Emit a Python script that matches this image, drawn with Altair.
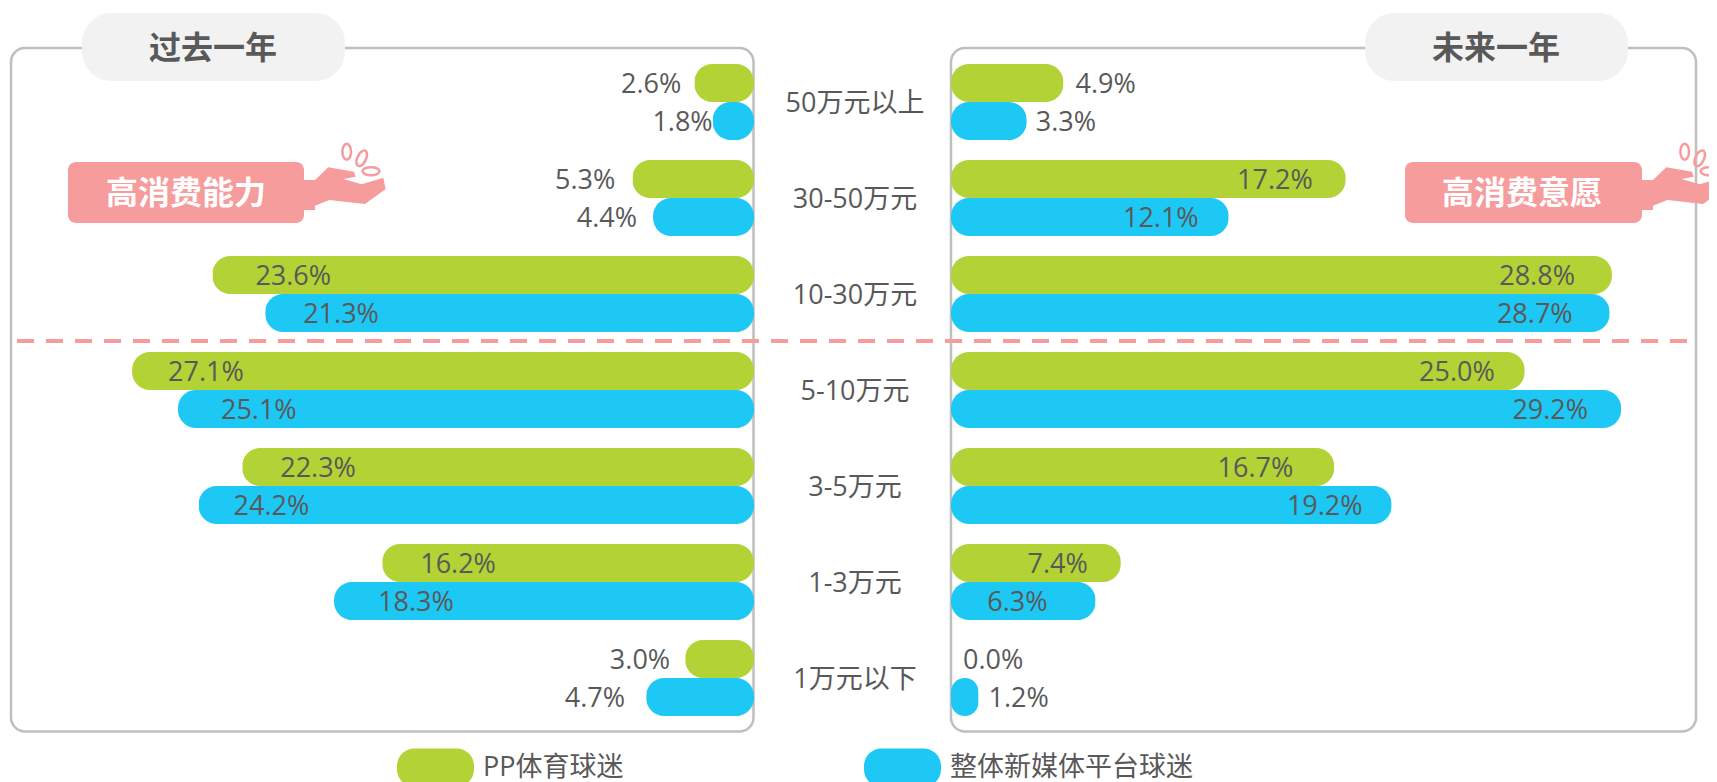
import altair as alt
import pandas as pd

categories = ["50万元以上", "30-50万元", "10-30万元", "5-10万元", "3-5万元", "1-3万元", "1万元以下"]
series = ["PP体育球迷", "整体新媒体平台球迷"]
past_pp = [2.6, 5.3, 23.6, 27.1, 22.3, 16.2, 3.0]
past_all = [1.8, 4.4, 21.3, 25.1, 24.2, 18.3, 4.7]
future_pp = [4.9, 17.2, 28.8, 25.0, 16.7, 7.4, 0.0]
future_all = [3.3, 12.1, 28.7, 29.2, 19.2, 6.3, 1.2]
colors = ["#b2d235", "#1ec8f4"]

# hand-placed label nudges, in pixels, by value
nudge_past = {1.8: 13, 4.7: -8, 5.3: -4, 4.4: -3, 3.0: -2, 23.6: 5, 25.1: 5, 18.3: 6, 24.2: -3, 27.1: -2}
nudge_future = {16.7: -8, 28.8: -4, 28.7: -4, 25.0: 3, 19.2: 4, 12.1: 3, 6.3: -15, 3.3: -3, 1.2: -2}

GREY = "#595959"
PINK = "#f69c9c"
CJK = "Open Sans, Noto Sans CJK SC, sans-serif"
BOLD = "Noto Sans CJK SC, sans-serif"


def table(a, b):
    rows = []
    for c, x, y in zip(categories, a, b):
        rows.append({"cat": c, "series": series[0], "v": x})
        rows.append({"cat": c, "series": series[1], "v": y})
    return pd.DataFrame(rows)


past = table(past_pp, past_all)
future = table(future_pp, future_all)

Y = alt.Y("cat:N", sort=categories, axis=None,
          scale=alt.Scale(domain=categories, range=[56, 708], paddingInner=20 / 96, paddingOuter=0))
YO = alt.YOffset("series:N", sort=series,
                 scale=alt.Scale(domain=series, paddingInner=0, paddingOuter=0))
X_LEFT = alt.X("v:Q", axis=None, scale=alt.Scale(domain=[0, 30], range=[746, 57.5]))
X_RIGHT = alt.X("v:Q", axis=None, scale=alt.Scale(domain=[0, 30], range=[943, 1631.5]))

legend_shape = ("M-0.55,-0.5 L0.55,-0.5 A0.45,0.45 0 0 1 1,-0.05 L1,0.05 A0.45,0.45 0 0 1 0.55,0.5 "
                "L-0.55,0.5 A0.45,0.45 0 0 1 -1,0.05 L-1,-0.05 A0.45,0.45 0 0 1 -0.55,-0.5 Z")
COLOR = alt.Color(
    "series:N", sort=series,
    scale=alt.Scale(domain=series, range=colors),
    legend=alt.Legend(
        orient="none", legendX=389, legendY=721, direction="horizontal", title=None,
        symbolType=legend_shape, symbolSize=5929, symbolStrokeWidth=0, symbolOpacity=1,
        labelFontSize=27, labelColor=GREY, labelFont=CJK, labelOffset=9,
        columnPadding=240, labelLimit=400,
    ),
)
blank = alt.Data(values=[{"a": 0}])


def box(x, x2, y, y2, **kw):
    return alt.Chart(blank).mark_rect(**kw).encode(
        x=alt.value(x), x2=alt.value(x2), y=alt.value(y), y2=alt.value(y2))


def note(text, x, y, **kw):
    return alt.Chart(alt.Data(values=[{"t": text}])).mark_text(**kw).encode(
        x=alt.value(x), y=alt.value(y), text="t:N")


def bars(data, x):
    return alt.Chart(data).mark_bar(cornerRadius=18).encode(x=x, y=Y, yOffset=YO, color=COLOR)


def label_layers(data, x, nudge, align_in, align_out, dx_in, dx_out):
    out = []
    for value in sorted(set(data["v"])):
        inside = value >= 6
        dx = (dx_in if inside else dx_out) + nudge.get(value, 0)
        out.append(
            alt.Chart(data)
            .transform_filter(f"datum.v == {value}")
            .transform_calculate(label="format(datum.v, '.1f') + '%'")
            .mark_text(fontSize=27, font=CJK, color=GREY, baseline="middle", dy=2,
                       align=align_in if inside else align_out, dx=dx)
            .encode(x=x, y=Y, yOffset=YO, text="label:N")
        )
    return out


hand_path = ("M-17,0 L-5,0 L8.3,-12.7 L34,-8.3 L35.7,-3.3 L23.3,-1 L41.7,4.3 L63.3,-2.3 L65.7,9 L45,24 "
             "L9.3,20 L-5,25.7 L-5,30 L-17,30 Z")
coin = "M-4.3,0 A4.3,8 0 1 1 4.3,0 A4.3,8 0 1 1 -4.3,0 Z"
coin_tilt = "M-3.9,-1.8 A4.3,8 25 1 1 3.9,1.8 A4.3,8 25 1 1 -3.9,-1.8 Z"
coin_flat = "M-8.5,0 A8.5,4 0 1 1 8.5,0 A8.5,4 0 1 1 -8.5,0 Z"


def hand(dx):
    parts = [alt.Chart(blank).mark_point(shape=hand_path, size=4, filled=True, fill=PINK, opacity=1, stroke=None)
             .encode(x=alt.value(312 + dx), y=alt.value(172))]
    for shape, cx, cy in [(coin, 338.7, 143.7), (coin_tilt, 353.7, 150.3), (coin_flat, 363, 163.3)]:
        parts.append(alt.Chart(blank).mark_point(shape=shape, size=4, filled=False, stroke=PINK,
                                                 strokeWidth=2.5, opacity=1)
                     .encode(x=alt.value(cx + dx), y=alt.value(cy)))
    return parts


layers = [
    box(3, 745.5, 40, 723.5, fillOpacity=0, stroke="#bfbfbf", strokeWidth=2.5, cornerRadius=14),
    box(943, 1688, 40, 723.5, fillOpacity=0, stroke="#bfbfbf", strokeWidth=2.5, cornerRadius=14),
    box(74, 337, 5, 73, fill="#f2f2f2", cornerRadius=30),
    box(1357, 1620, 5, 73, fill="#f2f2f2", cornerRadius=30),
    note("过去一年", 205, 41, fontSize=32, fontWeight="bold", font=BOLD, color=GREY, baseline="middle"),
    note("未来一年", 1488, 41, fontSize=32, fontWeight="bold", font=BOLD, color=GREY, baseline="middle"),
    box(60, 296, 154, 215, fill=PINK, cornerRadius=8),
    box(1397, 1634, 154, 215, fill=PINK, cornerRadius=8),
    note("高消费能力", 178, 186, fontSize=32, fontWeight="bold", font=BOLD, color="white", baseline="middle"),
    note("高消费意愿", 1514, 186, fontSize=32, fontWeight="bold", font=BOLD, color="white", baseline="middle"),
    *hand(0),
    *hand(1338),
    bars(past, X_LEFT),
    bars(future, X_RIGHT),
    alt.Chart(blank).mark_rule(color=PINK, strokeWidth=4, strokeDash=[17, 12]).encode(
        x=alt.value(9), x2=alt.value(1682), y=alt.value(333)),
    *label_layers(past, X_LEFT, nudge_past, "left", "right", 38, -13),
    *label_layers(future, X_RIGHT, nudge_future, "right", "left", -33, 12),
    alt.Chart(pd.DataFrame({"cat": categories})).mark_text(
        fontSize=27, font=CJK, color=GREY, baseline="middle", dy=2).encode(
        x=alt.value(847), y=Y, text="cat:N"),
]

chart = (
    alt.layer(*layers)
    .resolve_scale(x="independent")
    .properties(width=1701, height=774, padding=0, autosize=alt.AutoSizeParams(type="none"), background="white")
    .configure_view(stroke=None)
)

chart.save("out.html", embed_options={"renderer": "svg", "actions": False})
